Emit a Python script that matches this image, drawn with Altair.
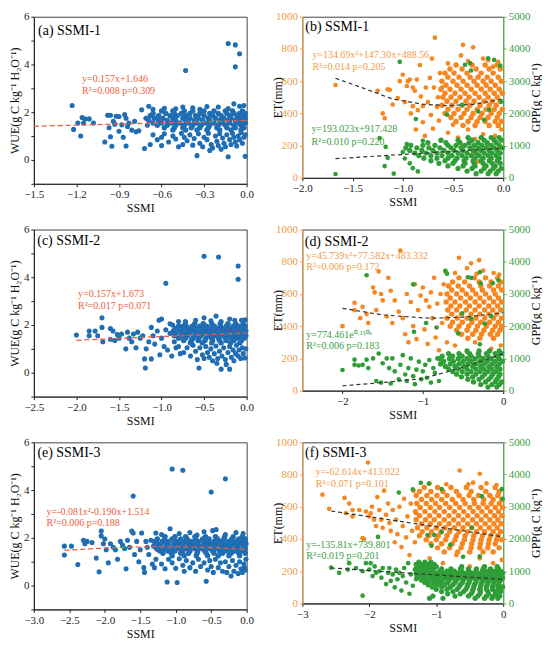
import altair as alt
import pandas as pd

FONT = "Liberation Serif"
BLUE = "#1f6db3"
RED = "#f25b3c"
ORANGE = "#f7861f"
ORANGE_T = "#f29a48"
ORANGE_A = "#f5a24f"
GREEN = "#2f9e37"
GREEN_T = "#3aa043"
GREEN_A = "#5cbc5c"

# ---------------- (a) WUE vs SSMI-1 ----------------
A_SPARSE = [
    (-1.23, 2.28), (-1.22, 1.28), (-1.19, 1.55), (-1.16, 1.78), (-1.17, 1.00), (-1.15, 1.55), (-1.14, 1.72),
    (-1.11, 1.72), (-1.08, 1.55), (-1.00, 0.75), (-0.98, 1.87), (-0.96, 1.87), (-0.97, 1.35), (-0.96, 0.97),
    (-0.95, 0.57), (-0.94, 1.62), (-0.93, 1.50), (-0.92, 1.83), (-0.90, 1.82), (-0.90, 1.20), (-0.88, 1.47),
    (-0.87, 0.95), (-0.86, 1.90), (-0.85, 1.75), (-0.85, 0.58), (-0.84, 1.40), (-0.83, 1.55), (-0.81, 1.25),
    (-0.79, 1.62), (-0.78, 1.18), (-0.76, 1.22), (-0.74, 2.10), (-0.72, 0.48), (-0.71, 1.75), (-0.70, 1.45),
    (-0.69, 2.25), (-0.68, 0.65),
    (-0.66, 2.12), (-0.58, 2.16), (-0.45, 2.22), (-0.38, 2.18), (-0.28, 2.24), (-0.20, 2.22), (-0.13, 2.15),
    (-0.09, 2.35), (-0.05, 2.25), (-0.02, 2.28), (-0.50, 2.14), (-0.33, 2.12),
    (-0.66, 1.05), (-0.63, 0.85), (-0.60, 0.95), (-0.58, 1.10), (-0.55, 0.75), (-0.52, 1.00), (-0.50, 0.88),
    (-0.48, 0.55), (-0.46, 1.12), (-0.44, 0.95), (-0.42, 0.80), (-0.40, 1.05), (-0.38, 0.62), (-0.37, 0.90),
    (-0.35, 0.18), (-0.34, 1.10), (-0.33, 0.70), (-0.31, 0.55), (-0.30, 0.95), (-0.28, 0.85), (-0.27, 1.12),
    (-0.25, 0.65), (-0.24, 0.50), (-0.22, 1.00), (-0.21, 0.78), (-0.20, 0.60), (-0.19, 1.10), (-0.17, 0.92),
    (-0.16, 0.70), (-0.15, 0.55), (-0.14, 1.05), (-0.13, 0.13), (-0.12, 0.85), (-0.11, 0.65), (-0.10, 1.12),
    (-0.09, 0.95), (-0.08, 0.75), (-0.07, 0.58), (-0.06, 1.00), (-0.05, 0.85), (-0.04, 1.15), (-0.03, 0.70),
    (-0.02, 0.95), (-0.01, 0.15), (-0.01, 1.05), (-0.60, 0.60), (-0.45, 0.65), (-0.18, 0.45), (-0.26, 0.40),
    (-0.43, 3.75), (-0.13, 4.88), (-0.08, 4.82), (-0.05, 4.45), (-0.08, 3.90),
]
A_ROWS = [
    (2.05, [-0.60, -0.52, -0.44, -0.38, -0.30, -0.23, -0.15, -0.10, -0.03]),
    (1.95, [-0.66, -0.57, -0.51, -0.46, -0.40, -0.33, -0.26, -0.20, -0.14, -0.09, -0.05, -0.01]),
    (1.85, [-0.68, -0.62, -0.54, -0.49, -0.43, -0.36, -0.30, -0.24, -0.18, -0.12, -0.07, -0.02]),
    (1.75, [-0.65, -0.59, -0.52, -0.45, -0.40, -0.34, -0.27, -0.22, -0.16, -0.11, -0.05, -0.01]),
    (1.65, [-0.69, -0.62, -0.56, -0.50, -0.43, -0.37, -0.31, -0.26, -0.19, -0.13, -0.08, -0.03]),
    (1.55, [-0.66, -0.60, -0.53, -0.47, -0.41, -0.35, -0.29, -0.23, -0.17, -0.12, -0.06, -0.01]),
    (1.45, [-0.63, -0.56, -0.50, -0.44, -0.38, -0.32, -0.26, -0.20, -0.15, -0.09, -0.04]),
    (1.35, [-0.58, -0.51, -0.45, -0.39, -0.33, -0.27, -0.21, -0.14, -0.08, -0.02]),
    (1.25, [-0.52, -0.43, -0.35, -0.28, -0.19, -0.11, -0.04]),
]
A_FIT = [(-1.5, 1.41), (0.0, 1.65)]

# ---------------- (c) WUE vs SSMI-2 ----------------
C_SPARSE = [
    (-2.00, 1.58), (-1.85, 1.75), (-1.85, 1.55), (-1.78, 1.75), (-1.75, 1.55), (-1.70, 2.30), (-1.70, 1.90),
    (-1.69, 1.30), (-1.60, 1.85), (-1.60, 1.40), (-1.57, 1.75), (-1.55, 1.35), (-1.52, 1.60), (-1.50, 1.45),
    (-1.47, 1.62), (-1.42, 1.00), (-1.40, 1.70), (-1.38, 1.45), (-1.35, 1.30), (-1.33, 1.62), (-1.30, 1.05),
    (-1.28, 1.70), (-1.25, 1.45), (-1.22, 1.55), (-1.20, 0.58), (-1.19, 0.20), (-1.18, 1.00), (-1.15, 1.30),
    (-1.12, 0.58), (-1.12, 1.90), (-1.10, 1.55), (-1.08, 1.20), (-1.05, 1.75), (-1.03, 2.20), (-1.00, 2.25),
    (-1.02, 0.75), (-1.00, 1.45), (-0.97, 1.10), (-0.95, 1.80), (-0.93, 0.95), (-0.90, 1.65), (-0.88, 0.70),
    (-0.87, 2.00), (-0.85, 1.30), (-0.83, 1.05), (-0.80, 2.15), (-0.78, 0.80), (-0.75, 1.95),
    (-0.90, 2.05), (-0.72, 2.14), (-0.60, 2.20), (-0.50, 2.30), (-0.42, 2.18), (-0.36, 2.38), (-0.30, 2.14),
    (-0.20, 2.25), (-0.14, 2.20), (-0.06, 2.20), (-0.02, 2.22),
    (-0.80, 1.10), (-0.74, 0.85), (-0.70, 1.05), (-0.66, 0.70), (-0.63, 1.15), (-0.60, 0.90), (-0.58, 0.55),
    (-0.56, 0.20), (-0.55, 1.05), (-0.52, 0.75), (-0.50, 0.60), (-0.48, 1.10), (-0.46, 0.85), (-0.44, 0.65),
    (-0.42, 1.00), (-0.40, 0.50), (-0.38, 0.80), (-0.36, 1.12), (-0.34, 0.60), (-0.32, 0.90), (-0.30, 0.15),
    (-0.29, 0.70), (-0.27, 1.05), (-0.25, 0.55), (-0.24, 0.35), (-0.22, 0.85), (-0.20, 0.15), (-0.20, 1.10),
    (-0.18, 0.65), (-0.16, 0.95), (-0.15, 0.50), (-0.13, 0.80), (-0.12, 1.15), (-0.10, 0.70), (-0.09, 0.95),
    (-0.07, 0.60), (-0.05, 1.05), (-0.04, 0.80), (-0.02, 0.62), (-0.01, 1.00), (-0.65, 1.25), (-0.35, 0.40),
    (-0.50, 4.88), (-0.33, 4.85), (-0.10, 4.47), (-0.10, 3.92), (-0.95, 3.75),
]
C_ROWS = [
    (2.05, [-0.72, -0.61, -0.51, -0.41, -0.31, -0.22, -0.13, -0.04]),
    (1.95, [-0.80, -0.71, -0.64, -0.55, -0.47, -0.38, -0.31, -0.24, -0.16, -0.09, -0.02]),
    (1.85, [-0.84, -0.75, -0.67, -0.60, -0.51, -0.43, -0.36, -0.27, -0.20, -0.12, -0.05]),
    (1.75, [-0.86, -0.79, -0.70, -0.63, -0.55, -0.46, -0.39, -0.31, -0.23, -0.16, -0.08, -0.01]),
    (1.65, [-0.83, -0.74, -0.67, -0.58, -0.50, -0.43, -0.34, -0.27, -0.19, -0.11, -0.04]),
    (1.55, [-0.85, -0.77, -0.69, -0.61, -0.54, -0.45, -0.38, -0.30, -0.22, -0.14, -0.07, -0.01]),
    (1.45, [-0.80, -0.72, -0.63, -0.56, -0.48, -0.41, -0.33, -0.25, -0.18, -0.10, -0.03]),
    (1.35, [-0.74, -0.65, -0.57, -0.49, -0.40, -0.32, -0.24, -0.15, -0.06]),
    (1.25, [-0.66, -0.52, -0.41, -0.30, -0.19, -0.08]),
]
C_FIT = [(-2.0, 1.36), (0.0, 1.67)]

# ---------------- (e) WUE vs SSMI-3 ----------------
E_SPARSE = [
    (-2.57, 1.65), (-2.57, 1.28), (-2.47, 1.65), (-2.38, 0.88), (-2.30, 1.90), (-2.28, 1.75), (-2.25, 1.85),
    (-2.18, 1.80), (-2.12, 1.15), (-2.08, 0.58), (-2.05, 2.28), (-2.05, 2.08), (-2.02, 1.75), (-2.00, 1.95),
    (-1.98, 1.50), (-1.95, 0.95), (-1.92, 1.75), (-1.88, 1.60), (-1.85, 1.50), (-1.82, 1.10), (-1.78, 1.85),
    (-1.75, 1.70), (-1.72, 1.55), (-1.70, 0.70), (-1.68, 1.90), (-1.65, 1.60), (-1.62, 2.28), (-1.60, 3.75),
    (-1.60, 2.20), (-1.58, 1.30), (-1.55, 1.85), (-1.52, 1.00), (-1.50, 1.50), (-1.48, 2.20), (-1.45, 0.75),
    (-1.44, 0.55), (-1.42, 1.85), (-1.40, 1.60), (-1.38, 1.30), (-1.35, 1.90), (-1.33, 0.90), (-1.30, 0.75),
    (-1.28, 2.20), (-1.25, 1.50),
    (-1.20, 2.14), (-1.08, 2.38), (-0.95, 2.18), (-0.80, 2.22), (-0.60, 2.25), (-0.48, 2.30), (-0.43, 2.35),
    (-0.30, 2.14), (-0.15, 2.22), (-0.05, 2.18), (-0.70, 2.12),
    (-1.28, 1.10), (-1.20, 0.90), (-1.15, 0.70), (-1.12, 0.15), (-1.10, 1.10), (-1.05, 0.95), (-1.00, 0.72),
    (-0.98, 0.13), (-0.95, 1.12), (-0.90, 0.85), (-0.88, 0.60), (-0.85, 1.05), (-0.80, 0.75), (-0.76, 0.95),
    (-0.72, 0.60), (-0.68, 1.10), (-0.65, 0.80), (-0.60, 0.95), (-0.57, 0.18), (-0.55, 0.65), (-0.52, 1.05),
    (-0.50, 0.80), (-0.47, 0.55), (-0.44, 1.10), (-0.40, 0.75), (-0.37, 0.95), (-0.34, 0.60), (-0.30, 1.00),
    (-0.28, 0.55), (-0.25, 0.80), (-0.22, 0.40), (-0.20, 1.05), (-0.18, 0.60), (-0.15, 0.85), (-0.12, 0.50),
    (-0.10, 1.00), (-0.08, 0.70), (-0.06, 0.55), (-0.04, 0.90), (-0.02, 0.65), (-0.01, 1.10), (-0.03, 0.75),
    (-1.05, 4.88), (-0.90, 4.83), (-0.30, 4.47), (-0.50, 3.92),
]
E_ROWS = [
    (2.05, [-1.15, -1.01, -0.86, -0.73, -0.58, -0.44, -0.31, -0.19, -0.06]),
    (1.95, [-1.26, -1.16, -1.05, -0.93, -0.84, -0.72, -0.62, -0.53, -0.41, -0.32, -0.21, -0.11, -0.02]),
    (1.85, [-1.30, -1.19, -1.10, -0.99, -0.87, -0.78, -0.68, -0.56, -0.46, -0.37, -0.26, -0.15, -0.06]),
    (1.75, [-1.25, -1.14, -1.03, -0.93, -0.82, -0.72, -0.61, -0.51, -0.42, -0.31, -0.20, -0.10, -0.01]),
    (1.65, [-1.31, -1.21, -1.10, -0.98, -0.89, -0.78, -0.67, -0.57, -0.46, -0.36, -0.26, -0.15, -0.05]),
    (1.55, [-1.27, -1.16, -1.05, -0.95, -0.84, -0.74, -0.63, -0.53, -0.43, -0.32, -0.22, -0.12, -0.02]),
    (1.45, [-1.22, -1.11, -1.01, -0.90, -0.80, -0.69, -0.59, -0.48, -0.38, -0.28, -0.17, -0.07]),
    (1.35, [-1.18, -1.06, -0.93, -0.82, -0.70, -0.57, -0.46, -0.34, -0.22, -0.11, -0.02]),
    (1.25, [-1.05, -0.88, -0.71, -0.55, -0.40, -0.25, -0.10]),
]
E_FIT = [(-2.57, 1.47), (-2.2, 1.54), (-1.8, 1.59), (-1.4, 1.62), (-1.0, 1.62), (-0.6, 1.60), (-0.3, 1.56), (0.0, 1.51)]

# ---------------- (b) ET / GPP vs SSMI-1 ----------------
B_ET_SPARSE = [
    (-1.67, 576), (-1.25, 540), (-1.20, 400), (-1.18, 370), (-1.15, 550), (-1.13, 545), (-1.10, 455),
    (-1.05, 495), (-1.03, 600), (-1.00, 640), (-0.98, 470), (-0.96, 570), (-0.95, 600), (-0.93, 610),
    (-0.92, 400), (-0.90, 445), (-0.90, 560), (-0.88, 540), (-0.87, 300), (-0.86, 610), (-0.85, 420),
    (-0.83, 700), (-0.82, 505), (-0.80, 345), (-0.80, 445), (-0.78, 260), (-0.77, 560), (-0.75, 470),
    (-0.73, 620), (-0.72, 390), (-0.71, 740), (-0.70, 305), (-0.69, 560), (-0.68, 870), (-0.66, 440),
    (-0.65, 500), (-0.64, 355), (-0.63, 650), (-0.62, 230), (-0.61, 560),
    (-0.55, 280), (-0.45, 250), (-0.40, 200), (-0.35, 300), (-0.30, 150), (-0.28, 240), (-0.20, 270),
    (-0.15, 200), (-0.12, 120), (-0.08, 260), (-0.05, 180), (-0.02, 300), (-0.25, 100), (-0.50, 330),
    (-0.55, 710), (-0.42, 760), (-0.40, 825), (-0.30, 810), (-0.20, 740), (-0.15, 730), (-0.05, 720),
    (-0.35, 725), (-0.10, 690),
]
B_ET_ROWS = [
    (700, [-0.47, -0.31, -0.18, -0.06]),
    (675, [-0.53, -0.41, -0.27, -0.14, -0.03]),
    (650, [-0.58, -0.49, -0.36, -0.22, -0.10]),
    (625, [-0.55, -0.44, -0.33, -0.25, -0.16, -0.05]),
    (600, [-0.61, -0.50, -0.40, -0.29, -0.20, -0.12, -0.02]),
    (575, [-0.57, -0.46, -0.36, -0.26, -0.17, -0.08]),
    (550, [-0.62, -0.53, -0.42, -0.32, -0.22, -0.13, -0.04]),
    (525, [-0.58, -0.48, -0.38, -0.28, -0.18, -0.09, -0.01]),
    (500, [-0.60, -0.52, -0.43, -0.34, -0.24, -0.15, -0.06]),
    (475, [-0.56, -0.47, -0.37, -0.29, -0.19, -0.11, -0.03]),
    (450, [-0.61, -0.51, -0.41, -0.33, -0.23, -0.14, -0.07]),
    (425, [-0.55, -0.45, -0.36, -0.26, -0.17, -0.09, -0.01]),
    (400, [-0.58, -0.49, -0.39, -0.30, -0.21, -0.12, -0.04]),
    (375, [-0.52, -0.42, -0.32, -0.23, -0.15, -0.06]),
    (350, [-0.47, -0.35, -0.26, -0.18, -0.08, -0.02]),
    (325, [-0.40, -0.28, -0.14, -0.05]),
]
B_GPP_SPARSE = [
    (-1.03, 3600), (-0.38, 3510), (-0.33, 3560), (-0.32, 3330), (-0.15, 3710), (-0.09, 3660), (-0.03, 3480),
    (-0.87, 1825), (-0.56, 1960), (-0.41, 2260), (-0.25, 2060), (-0.19, 1800), (-0.14, 2110), (-0.02, 2360),
    (-1.67, 120), (-1.23, 1230), (-1.18, 365), (-1.17, 960), (-1.15, 620), (-1.09, 130),
    (-1.00, 800), (-0.98, 600), (-0.96, 1050), (-0.93, 450), (-0.90, 300), (-0.85, 200), (-0.80, 1150),
]
B_GPP_ROWS = [
    (1250, [-0.35, -0.22, -0.12, -0.04]),
    (1170, [-0.62, -0.45, -0.31, -0.19, -0.09, -0.02]),
    (1090, [-0.75, -0.57, -0.43, -0.34, -0.25, -0.16, -0.07]),
    (1010, [-0.92, -0.80, -0.68, -0.55, -0.47, -0.38, -0.29, -0.21, -0.12, -0.04]),
    (930, [-0.97, -0.86, -0.74, -0.63, -0.52, -0.42, -0.33, -0.25, -0.17, -0.09, -0.01]),
    (850, [-0.93, -0.81, -0.70, -0.59, -0.49, -0.40, -0.30, -0.22, -0.14, -0.06]),
    (770, [-0.88, -0.77, -0.66, -0.55, -0.45, -0.36, -0.27, -0.19, -0.11, -0.03]),
    (690, [-0.84, -0.72, -0.61, -0.51, -0.41, -0.32, -0.24, -0.15, -0.07]),
    (610, [-0.79, -0.66, -0.55, -0.46, -0.37, -0.28, -0.20, -0.12, -0.04]),
    (530, [-0.72, -0.58, -0.48, -0.39, -0.30, -0.22, -0.14, -0.06]),
    (450, [-0.64, -0.50, -0.38, -0.29, -0.20, -0.11, -0.03]),
    (370, [-0.55, -0.40, -0.28, -0.17, -0.08]),
    (290, [-0.45, -0.31, -0.19, -0.10, -0.02]),
    (210, [-0.36, -0.22, -0.13, -0.05]),
    (130, [-0.27, -0.15, -0.07]),
]
B_ET_FIT = [(-1.67, 618), (-1.4, 558), (-1.1, 489), (-0.8, 457), (-0.55, 448), (-0.3, 456), (0.0, 489)]
B_GPP_FIT = [(-1.67, 595), (0.0, 917)]

# ---------------- (d) ET / GPP vs SSMI-2 ----------------
D_ET_SPARSE = [
    (-2.00, 400), (-1.85, 545), (-1.85, 500), (-1.78, 450), (-1.75, 520), (-1.70, 475), (-1.68, 420),
    (-1.62, 640), (-1.60, 610), (-1.58, 500), (-1.55, 740), (-1.52, 600), (-1.50, 560), (-1.45, 460),
    (-1.43, 700), (-1.40, 620), (-1.38, 420), (-1.35, 560), (-1.30, 490), (-1.28, 870), (-1.25, 450),
    (-1.22, 350), (-1.20, 600), (-1.18, 300), (-1.15, 550), (-1.12, 400), (-1.10, 660), (-1.08, 320),
    (-1.06, 500), (-1.03, 590), (-1.00, 640), (-0.98, 380), (-0.96, 560), (-0.94, 290), (-0.92, 520),
    (-0.90, 610), (-0.88, 450), (-0.86, 700), (-0.84, 330), (-0.82, 540), (-0.80, 250), (-0.78, 600),
    (-0.76, 420), (-0.74, 660), (-0.72, 740), (-0.70, 300), (-0.55, 825), (-0.30, 810),
    (-0.60, 280), (-0.45, 240), (-0.35, 300), (-0.25, 200), (-0.15, 260), (-0.08, 150), (-0.03, 280),
    (-0.40, 180), (-0.60, 730), (-0.45, 760), (-0.33, 725), (-0.25, 745), (-0.12, 730), (-0.05, 720),
    (-0.40, 790),
]
D_ET_ROWS = [
    (700, [-0.55, -0.36, -0.22, -0.07]),
    (675, [-0.63, -0.48, -0.30, -0.15, -0.03]),
    (650, [-0.68, -0.56, -0.42, -0.28, -0.17, -0.06]),
    (625, [-0.64, -0.51, -0.38, -0.26, -0.12, -0.02]),
    (600, [-0.70, -0.58, -0.46, -0.34, -0.22, -0.10]),
    (575, [-0.66, -0.53, -0.41, -0.29, -0.17, -0.06]),
    (550, [-0.71, -0.60, -0.47, -0.35, -0.24, -0.12, -0.02]),
    (525, [-0.65, -0.54, -0.42, -0.30, -0.18, -0.07]),
    (500, [-0.69, -0.58, -0.46, -0.35, -0.23, -0.13, -0.03]),
    (475, [-0.64, -0.52, -0.40, -0.29, -0.18, -0.08]),
    (450, [-0.70, -0.57, -0.45, -0.34, -0.23, -0.12, -0.02]),
    (425, [-0.63, -0.51, -0.39, -0.28, -0.17, -0.06]),
    (400, [-0.66, -0.55, -0.43, -0.32, -0.21, -0.10, -0.02]),
    (375, [-0.58, -0.45, -0.34, -0.24, -0.13, -0.04]),
    (350, [-0.52, -0.38, -0.27, -0.16, -0.07]),
    (325, [-0.44, -0.29, -0.12]),
]
D_GPP_SPARSE = [
    (-2.00, 640), (-1.85, 960), (-1.85, 800), (-1.80, 780), (-1.75, 800), (-1.70, 960), (-1.68, 700),
    (-1.62, 1000), (-1.58, 300), (-1.55, 1150), (-1.52, 250), (-1.50, 850), (-1.45, 1000), (-1.42, 700),
    (-1.40, 220), (-1.38, 1000), (-1.35, 600), (-1.30, 350), (-1.28, 800), (-1.25, 1100), (-1.22, 500),
    (-1.20, 300), (-1.18, 700), (-1.15, 1000), (-1.12, 450), (-1.10, 200), (-1.08, 650), (-1.05, 900),
    (-1.02, 350), (-1.00, 600), (-0.97, 800), (-0.95, 400), (-0.92, 950), (-0.90, 250), (-0.87, 700),
    (-0.85, 550), (-0.82, 1000), (-0.80, 300),
    (-1.70, 3580), (-1.12, 3300), (-0.72, 3720), (-0.70, 3630), (-0.44, 3520), (-0.40, 3500), (-0.29, 3680),
    (-0.28, 3330), (-0.13, 3330), (-0.06, 3430),
    (-1.11, 1825), (-0.96, 2100), (-0.83, 1960), (-0.56, 1775), (-0.51, 2400), (-0.40, 2230), (-0.29, 1440),
    (-0.15, 2310), (-0.23, 2080),
]
D_GPP_ROWS = [
    (1230, [-0.45, -0.30, -0.17, -0.05]),
    (1150, [-0.68, -0.55, -0.42, -0.31, -0.21, -0.10, -0.02]),
    (1070, [-0.76, -0.63, -0.51, -0.40, -0.30, -0.19, -0.08]),
    (990, [-0.79, -0.67, -0.56, -0.45, -0.35, -0.25, -0.15, -0.05]),
    (910, [-0.74, -0.62, -0.50, -0.40, -0.29, -0.20, -0.10, -0.01]),
    (830, [-0.78, -0.66, -0.55, -0.44, -0.34, -0.24, -0.14, -0.05]),
    (750, [-0.72, -0.60, -0.49, -0.38, -0.28, -0.18, -0.08]),
    (670, [-0.68, -0.56, -0.45, -0.34, -0.24, -0.14, -0.04]),
    (590, [-0.63, -0.51, -0.40, -0.29, -0.19, -0.09]),
    (510, [-0.58, -0.45, -0.34, -0.23, -0.13, -0.04]),
    (430, [-0.52, -0.38, -0.26, -0.15, -0.06]),
    (350, [-0.44, -0.30, -0.18, -0.08]),
    (270, [-0.37, -0.22, -0.10, -0.02]),
    (190, [-0.28, -0.14, -0.05]),
    (110, [-0.19, -0.08]),
]
D_ET_FIT = [(-2.0, 511), (-1.5, 470), (-1.0, 452), (-0.85, 450), (-0.5, 456), (0.0, 483)]
D_GPP_FIT = [(-2.0, 150), (-1.5, 250), (-1.0, 375), (-0.5, 720), (-0.25, 930), (0.0, 1150)]

# ---------------- (f) ET / GPP vs SSMI-3 ----------------
F_ET_SPARSE = [
    (-2.70, 675), (-2.60, 587), (-2.37, 655), (-2.35, 560), (-2.30, 620), (-2.25, 580), (-2.10, 405),
    (-2.08, 400), (-2.02, 875), (-2.00, 540), (-1.98, 560), (-1.96, 600), (-1.93, 520), (-1.90, 480),
    (-1.88, 660), (-1.85, 580), (-1.82, 520), (-1.80, 470), (-1.78, 700), (-1.75, 550), (-1.72, 620),
    (-1.70, 500), (-1.68, 450), (-1.65, 580), (-1.62, 380), (-1.60, 520), (-1.58, 430), (-1.55, 600),
    (-1.52, 350), (-1.50, 480), (-1.48, 650), (-1.45, 410), (-1.43, 540), (-1.40, 300), (-1.38, 620),
    (-1.36, 450), (-1.34, 700), (-1.32, 380), (-1.30, 560), (-2.25, 540), (-2.15, 580), (-2.05, 570),
    (-1.10, 280), (-0.90, 250), (-0.70, 300), (-0.50, 230), (-0.35, 280), (-0.25, 200), (-0.15, 250),
    (-0.05, 180), (-0.60, 150), (-0.02, 270),
    (-1.10, 745), (-0.85, 740), (-0.65, 825), (-0.52, 740), (-0.35, 805), (-0.25, 745), (-0.10, 735),
    (-0.45, 750),
]
F_ET_ROWS = [
    (720, [-1.18, -0.98, -0.78, -0.55, -0.33, -0.12]),
    (695, [-1.25, -1.08, -0.90, -0.70, -0.48, -0.26, -0.06]),
    (670, [-1.30, -1.14, -0.99, -0.84, -0.66, -0.51, -0.37, -0.20, -0.08]),
    (645, [-1.22, -1.07, -0.92, -0.76, -0.60, -0.44, -0.29, -0.15, -0.02]),
    (620, [-1.29, -1.15, -1.01, -0.86, -0.71, -0.57, -0.43, -0.30, -0.18, -0.06]),
    (595, [-1.24, -1.09, -0.95, -0.80, -0.65, -0.50, -0.37, -0.24, -0.12, -0.01]),
    (570, [-1.31, -1.17, -1.02, -0.88, -0.73, -0.59, -0.45, -0.32, -0.19, -0.07]),
    (545, [-1.25, -1.10, -0.96, -0.81, -0.67, -0.53, -0.39, -0.26, -0.13, -0.02]),
    (520, [-1.30, -1.16, -1.03, -0.88, -0.74, -0.60, -0.46, -0.33, -0.20, -0.08]),
    (495, [-1.22, -1.09, -0.95, -0.81, -0.67, -0.53, -0.40, -0.27, -0.14, -0.03]),
    (470, [-1.28, -1.14, -1.00, -0.87, -0.73, -0.60, -0.47, -0.34, -0.21, -0.09]),
    (445, [-1.21, -1.07, -0.93, -0.80, -0.66, -0.53, -0.40, -0.28, -0.15, -0.04]),
    (420, [-1.25, -1.11, -0.97, -0.84, -0.70, -0.57, -0.44, -0.31, -0.19, -0.08]),
    (395, [-1.15, -1.00, -0.86, -0.72, -0.58, -0.45, -0.33, -0.21, -0.10, -0.02]),
    (370, [-1.08, -0.92, -0.76, -0.61, -0.47, -0.34, -0.22, -0.12]),
    (345, [-0.98, -0.80, -0.63, -0.48, -0.35, -0.23, -0.06]),
    (320, [-0.88, -0.68, -0.50, -0.30, -0.15]),
]
F_GPP_SPARSE = [
    (-2.57, 1110), (-2.45, 950), (-2.32, 1050), (-2.30, 1250), (-2.20, 1100), (-2.10, 1000), (-2.10, 240),
    (-2.05, 1250), (-2.00, 1050), (-1.98, 1250), (-1.95, 850), (-1.92, 1150), (-1.90, 950), (-1.87, 2065),
    (-1.85, 1000), (-1.82, 800), (-1.80, 1100), (-1.75, 600), (-1.72, 950), (-1.70, 1100), (-1.68, 700),
    (-1.65, 900), (-1.62, 500), (-1.60, 1050), (-1.58, 750), (-1.55, 950), (-1.52, 400), (-1.50, 850),
    (-1.48, 1100), (-1.45, 650), (-1.42, 1250), (-1.40, 300), (-1.38, 900), (-1.35, 550), (-1.32, 1050),
    (-1.30, 750),
    (-1.56, 3440), (-1.35, 3540), (-1.23, 3745), (-1.11, 3720), (-0.92, 3550), (-0.32, 3330), (-0.02, 3550),
    (-0.01, 3250), (-1.13, 2125), (-1.03, 2125), (-0.92, 2215), (-0.79, 1820), (-1.07, 1790), (-0.47, 2350),
    (-0.35, 1460), (-0.60, 1450),
]
F_GPP_ROWS = [
    (1280, [-1.26, -1.17, -1.08]),
    (1210, [-1.30, -1.21, -1.12, -1.03]),
    (1140, [-1.27, -1.18, -1.09, -1.00, -0.62, -0.28, -0.09]),
    (1070, [-1.30, -1.22, -1.13, -1.04, -0.92, -0.78, -0.64, -0.52, -0.40, -0.30, -0.19, -0.07]),
    (1000, [-1.26, -1.17, -1.06, -0.95, -0.84, -0.73, -0.62, -0.51, -0.41, -0.31, -0.22, -0.13, -0.04]),
    (930, [-1.30, -1.21, -1.11, -1.00, -0.89, -0.79, -0.68, -0.57, -0.46, -0.36, -0.26, -0.17, -0.08, -0.01]),
    (860, [-1.25, -1.15, -1.04, -0.94, -0.84, -0.73, -0.62, -0.52, -0.42, -0.32, -0.22, -0.13, -0.04]),
    (790, [-1.29, -1.19, -1.08, -0.98, -0.87, -0.77, -0.67, -0.56, -0.46, -0.36, -0.27, -0.17, -0.08, -0.01]),
    (720, [-1.22, -1.12, -1.01, -0.91, -0.81, -0.70, -0.60, -0.50, -0.40, -0.30, -0.21, -0.12, -0.04]),
    (650, [-1.17, -1.05, -0.94, -0.83, -0.72, -0.61, -0.51, -0.41, -0.32, -0.23, -0.14, -0.06]),
    (580, [-1.12, -0.99, -0.87, -0.75, -0.64, -0.53, -0.43, -0.33, -0.24, -0.15, -0.07]),
    (510, [-1.06, -0.92, -0.79, -0.66, -0.54, -0.44, -0.34, -0.25, -0.16, -0.08, -0.01]),
    (440, [-1.00, -0.84, -0.69, -0.56, -0.45, -0.35, -0.25, -0.16, -0.07]),
    (370, [-0.92, -0.75, -0.59, -0.46, -0.34, -0.23, -0.12, -0.04]),
    (300, [-0.83, -0.64, -0.48, -0.35, -0.22, -0.11]),
    (230, [-1.05, -0.72, -0.52, -0.38, -0.25, -0.15, -0.05]),
    (160, [-1.10, -0.90, -0.42, -0.28, -0.17, -0.08]),
]
F_ET_FIT = [(-2.57, 574), (0.0, 413)]
F_GPP_FIT = [(-2.57, 1100), (0.0, 745)]

WUE_TITLE = "WUE(g C kg⁻¹ H₂O⁻¹)"
GPP_TITLE = "GPP(g C kg⁻¹)"

LW, LH = 214, 168   # left panels
RW, RH = 202, 162   # right panels


def build(sparse, rows, cols):
    recs = list(sparse)
    for v, xs in rows:
        recs += [(x, v) for x in xs]
    return pd.DataFrame(recs, columns=cols)


def txt(df, color, size):
    return alt.Chart(df).mark_text(align="left", baseline="middle", font=FONT, fontSize=size, color=color)


def wue_panel(sparse, rows, fit, xdom, xticks, label, lab_xy, eqs, eq_x, eq_ys):
    X = alt.X("x:Q", scale=alt.Scale(domain=xdom, nice=False, zero=False),
              axis=alt.Axis(values=xticks, format=".1f", title="SSMI", labelFlush=False))
    Y = alt.Y("y:Q", scale=alt.Scale(domain=[-1, 6], nice=False, zero=False),
              axis=alt.Axis(values=[-1, 0, 1, 2, 3, 4, 5, 6],
                            labelExpr="datum.value % 2 == 0 ? datum.label : ''",
                            title=WUE_TITLE, titleAngle=270, titleBaseline="middle", titleAlign="center",
                            titleX=-19, titleY=LH / 2))
    sp = alt.Chart(build(sparse, [], ["x", "y"])).mark_circle(
        size=26, color=BLUE, opacity=1).encode(x=X, y=Y)
    core = alt.Chart(build([], rows, ["x", "y"])).mark_circle(
        size=30, color=BLUE, opacity=1).encode(x=X, y=Y)
    line = alt.Chart(pd.DataFrame(fit, columns=["x", "y"])).mark_line(
        color=RED, strokeDash=[5, 3], strokeWidth=1.3).encode(x=X, y=Y)
    eq = txt(pd.DataFrame({"x": [eq_x, eq_x], "y": eq_ys, "t": eqs}), RED, 10).encode(x=X, y=Y, text="t:N")
    lab = txt(pd.DataFrame({"x": [lab_xy[0]], "y": [lab_xy[1]], "t": [label]}), "black", 14).encode(
        x=X, y=Y, text="t:N")
    return alt.layer(sp, core, line, eq, lab).properties(width=LW, height=LH)


def et_panel(et_sp, et_rows, g_sp, g_rows, et_fit, g_fit, xdom, xticks, xfmt, label, lab_xy,
             et_eqs, et_eq_x, et_eq_ys, g_eqs, g_eq_x, g_eq_ys):
    X = alt.X("x:Q", scale=alt.Scale(domain=xdom, nice=False, zero=False),
              axis=alt.Axis(values=xticks, format=xfmt, title="SSMI", labelFlush=False))
    YE = alt.Y("et:Q", scale=alt.Scale(domain=[0, 1000], nice=False, zero=False),
               axis=alt.Axis(orient="left", values=[0, 200, 400, 600, 800, 1000], format="d", title="ET(mm)",
                             domainColor=ORANGE_A, tickColor=ORANGE_A, labelColor=ORANGE_T,
                             titleAngle=270, titleBaseline="middle", titleAlign="center",
                             titleX=-25, titleY=RH / 2))
    YG = alt.Y("gpp:Q", scale=alt.Scale(domain=[0, 5000], nice=False, zero=False),
               axis=alt.Axis(orient="right", values=[0, 1000, 2000, 3000, 4000, 5000], format="d",
                             title=GPP_TITLE, domainColor=GREEN_A, tickColor=GREEN_A, labelColor=GREEN_T,
                             titleAngle=270, titleBaseline="middle", titleAlign="center",
                             titleX=32, titleY=RH / 2))
    et_s = alt.Chart(build(et_sp, [], ["x", "et"])).mark_circle(
        size=22, color=ORANGE, opacity=1).encode(x=X, y=YE)
    et_c = alt.Chart(build([], et_rows, ["x", "et"])).mark_circle(
        size=30, color=ORANGE, opacity=1).encode(x=X, y=YE)
    et_line = alt.Chart(pd.DataFrame(et_fit, columns=["x", "et"])).mark_line(
        color="#333", strokeDash=[4, 3], strokeWidth=1.2).encode(x=X, y=YE)
    et_txt = txt(pd.DataFrame({"x": [et_eq_x] * 2, "et": et_eq_ys, "t": et_eqs}), ORANGE_T, 10).encode(
        x=X, y=YE, text="t:N")
    lab = txt(pd.DataFrame({"x": [lab_xy[0]], "et": [lab_xy[1]], "t": [label]}), "black", 14).encode(
        x=X, y=YE, text="t:N")
    g_s = alt.Chart(build(g_sp, [], ["x", "gpp"])).mark_circle(
        size=22, color=GREEN, opacity=1).encode(x=X, y=YG)
    g_c = alt.Chart(build([], g_rows, ["x", "gpp"])).mark_circle(
        size=28, color=GREEN, opacity=1).encode(x=X, y=YG)
    g_line = alt.Chart(pd.DataFrame(g_fit, columns=["x", "gpp"])).mark_line(
        color="#333", strokeDash=[4, 3], strokeWidth=1.2).encode(x=X, y=YG)
    g_txt = txt(pd.DataFrame({"x": [g_eq_x] * 2, "gpp": g_eq_ys, "t": g_eqs}), GREEN_T, 10).encode(
        x=X, y=YG, text="t:N")
    et_layer = alt.layer(et_s, et_c, et_line, et_txt, lab)
    g_layer = alt.layer(g_s, g_c, g_line, g_txt)
    return alt.layer(et_layer, g_layer).resolve_scale(y="independent").properties(width=RW, height=RH)


pa = wue_panel(A_SPARSE, A_ROWS, A_FIT, [-1.5, 0], [-1.5, -1.2, -0.9, -0.6, -0.3, 0.0],
               "(a) SSMI-1", (-1.47, 5.41), ["y=0.157x+1.646", "R²=0.008  p=0.309"], -1.16, [3.4, 2.9])
pc = wue_panel(C_SPARSE, C_ROWS, C_FIT, [-2.5, 0], [-2.5, -2.0, -1.5, -1.0, -0.5, 0.0],
               "(c) SSMI-2", (-2.46, 5.5), ["y=0.157x+1.673", "R²=0.017 p=0.071"], -1.98, [3.28, 2.78])
pe = wue_panel(E_SPARSE, E_ROWS, E_FIT, [-3.0, 0], [-3.0, -2.5, -2.0, -1.5, -1.0, -0.5, 0.0],
               "(e) SSMI-3", (-2.95, 5.57), ["y=-0.081x²-0.190x+1.514", "R²=0.006  p=0.188"], -2.82, [3.1, 2.62])

pb = et_panel(B_ET_SPARSE, B_ET_ROWS, B_GPP_SPARSE, B_GPP_ROWS, B_ET_FIT, B_GPP_FIT,
              [-2, 0], [-2.0, -1.5, -1.0, -0.5, 0.0], ".1f", "(b) SSMI-1", (-1.97, 935),
              ["y=134.69x²+147.30x+488.56", "R²=0.014 p=0.205"], -1.9, [760, 688],
              ["y=193.023x+917.428", "R²=0.010 p=0.220"], -1.91, [1510, 1125])
pd_ = et_panel(D_ET_SPARSE, D_ET_ROWS, D_GPP_SPARSE, D_GPP_ROWS, D_ET_FIT, D_GPP_FIT,
               [-2.5, 0], [-2, -1, 0], ".0f", "(d) SSMI-2", (-2.47, 925),
               ["y=45.739x²+77.582x+483.332", "R²=0.006 p=0.172"], -2.45, [835, 765],
               ["y=774.461e⁰·¹¹⁰ˣ", "R²=0.006 p=0.183"], -2.45, [1730, 1380])
pf = et_panel(F_ET_SPARSE, F_ET_ROWS, F_GPP_SPARSE, F_GPP_ROWS, F_ET_FIT, F_GPP_FIT,
              [-3, 0], [-3, -2, -1, 0], ".0f", "(f) SSMI-3", (-2.96, 935),
              ["y=-62.614x+413.022", "R²=0.071 p=0.101"], -2.8, [816, 744],
              ["y=-135.81x+739.801", "R²=0.019 p=0.201"], -2.94, [1810, 1460])

chart = alt.vconcat(
    alt.hconcat(pa, pb, spacing=16),
    alt.hconcat(pc, pd_, spacing=16),
    alt.hconcat(pe, pf, spacing=16),
    spacing=8,
).properties(
    padding={"left": 0, "top": 0, "right": 0, "bottom": 0},
    background="white",
).configure_view(stroke="#444", strokeWidth=1).configure_axis(
    labelFont=FONT, titleFont=FONT, labelFontSize=11, titleFontSize=12, titleFontWeight="normal",
    grid=False, tickSize=3, domainColor="#222", tickColor="#222", labelColor="#222",
    titleColor="#111", labelPadding=2, titlePadding=3,
)

chart.save("out.html", embed_options={"renderer": "svg", "actions": False})
